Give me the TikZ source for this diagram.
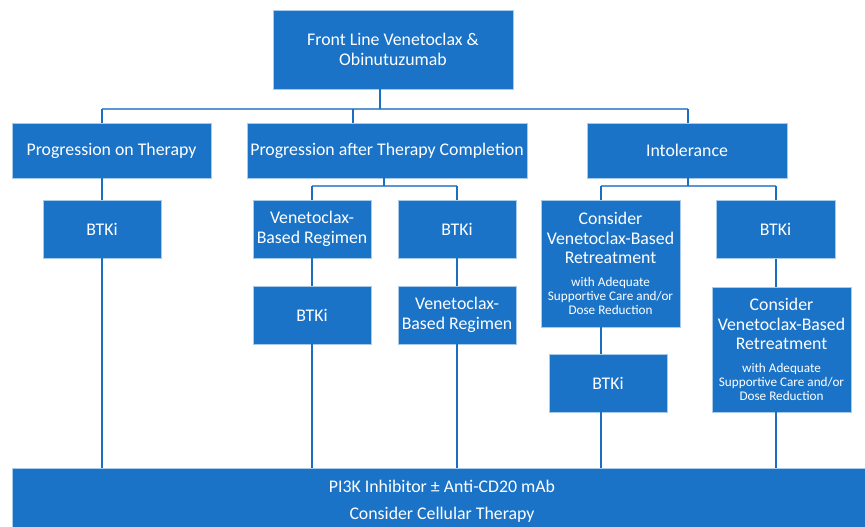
\documentclass[tikz,border=0pt]{standalone}
\usepackage{fontspec}
\setmainfont{Carlito}
\usetikzlibrary{positioning}

\definecolor{boxblue}{HTML}{1A73C7}
\definecolor{edgeblue}{HTML}{A9CBEA}
\definecolor{lineblue}{HTML}{1A6FC0}
\definecolor{barblue}{HTML}{5A97D2}

\newcommand{\smalltxt}[1]{\parbox{139pt}{\centering\fontsize{13.2}{14}\selectfont #1}}

\tikzset{
  box/.style={draw=edgeblue, line width=0.8pt, fill=boxblue, text=white,
    align=center, inner sep=0pt, font=\fontsize{17.8}{19.5}\selectfont},
  vline/.style={draw=lineblue, line width=2pt},
  hline/.style={draw=barblue, line width=1.5pt},
}

\begin{document}
\begin{tikzpicture}[x=1pt, y=-1pt]

\useasboundingbox (0,0) rectangle (865,527);

% top
\node[box, minimum width=240pt, minimum height=79pt] at (393,49.5) (front) {Front Line Venetoclax \&\\Obinutuzumab};

% second row
\node[box, minimum width=199pt, minimum height=55pt] at (111.5,150.5) (prog) {Progression on Therapy};
\node[box, minimum width=280pt, minimum height=55pt] at (387,150.5) (after) {Progression after Therapy Completion};
\node[box, minimum width=200pt, minimum height=55pt] at (687,150.5) (intol) {Intolerance};

% third row
\node[box, minimum width=118pt, minimum height=58pt] at (102,229) (btk1) {BTKi};
\node[box, minimum width=118pt, minimum height=58pt] at (312,229) (ven1) {Venetoclax-\\Based Regimen};
\node[box, minimum width=118pt, minimum height=58pt] at (457,229) (btk2) {BTKi};
\node[box, minimum width=139pt, minimum height=127pt] at (610.5,263.5) (cons1) {Consider\\Venetoclax-Based\\Retreatment\\[12pt]\smalltxt{with Adequate\\Supportive Care and/or\\Dose Reduction}};
\node[box, minimum width=119pt, minimum height=58pt] at (775.5,229.5) (btk5) {BTKi};

% fourth row
\node[box, minimum width=118pt, minimum height=58pt] at (312,315) (btk3) {BTKi};
\node[box, minimum width=118pt, minimum height=58pt] at (457,315) (ven2) {Venetoclax-\\Based Regimen};
\node[box, minimum width=118pt, minimum height=58pt] at (608,383) (btk4) {BTKi};
\node[box, minimum width=139pt, minimum height=125pt] at (781.5,349.5) (cons2) {Consider\\Venetoclax-Based\\Retreatment\\[12pt]\smalltxt{with Adequate\\Supportive Care and/or\\Dose Reduction}};

% bottom
\node[box, minimum width=860pt, minimum height=64pt, text depth=0pt] at (442,500) (last) {PI3K Inhibitor ± Anti-CD20 mAb\\[7.5pt]Consider Cellular Therapy};

% junctions
\coordinate (j0) at (380,109);
\coordinate (j1) at (102,109);
\coordinate (j2) at (353,109);
\coordinate (j3) at (688,109);
\coordinate (k0) at (384,186);
\coordinate (k1) at (312,186);
\coordinate (k2) at (457,186);
\coordinate (m0) at (688,186);
\coordinate (m1) at (601,186);
\coordinate (m2) at (776,186);

% first split
\draw[hline] (j1) -- (j3);
\draw[vline] (front.south -| j0) -- (j0);
\draw[vline] (j1) -- (prog.north -| j1);
\draw[vline] (j2) -- (after.north -| j2);
\draw[vline] (j3) -- (intol.north -| j3);

% after completion
\draw[hline] (k1) -- (k2);
\draw[vline] (after.south -| k0) -- (k0);
\draw[vline] (k1) -- (ven1.north);
\draw[vline] (k2) -- (btk2.north);

% intolerance
\draw[hline] (m1) -- (m2);
\draw[vline] (intol.south -| m0) -- (m0);
\draw[vline] (m1) -- (cons1.north -| m1);
\draw[vline] (m2) -- (btk5.north -| m2);

% down the columns
\draw[vline] (prog.south -| btk1) -- (btk1.north);
\draw[vline] (btk1.south) -- (last.north -| btk1);
\draw[vline] (ven1) -- (btk3);
\draw[vline] (btk3.south) -- (last.north -| btk3);
\draw[vline] (btk2) -- (ven2);
\draw[vline] (ven2.south) -- (last.north -| ven2);
\draw[vline] (cons1.south -| m1) -- (btk4.north -| m1);
\draw[vline] (btk4.south -| m1) -- (last.north -| m1);
\draw[vline] (btk5.south -| m2) -- (cons2.north -| m2);
\draw[vline] (cons2.south -| m2) -- (last.north -| m2);

\end{tikzpicture}
\end{document}
